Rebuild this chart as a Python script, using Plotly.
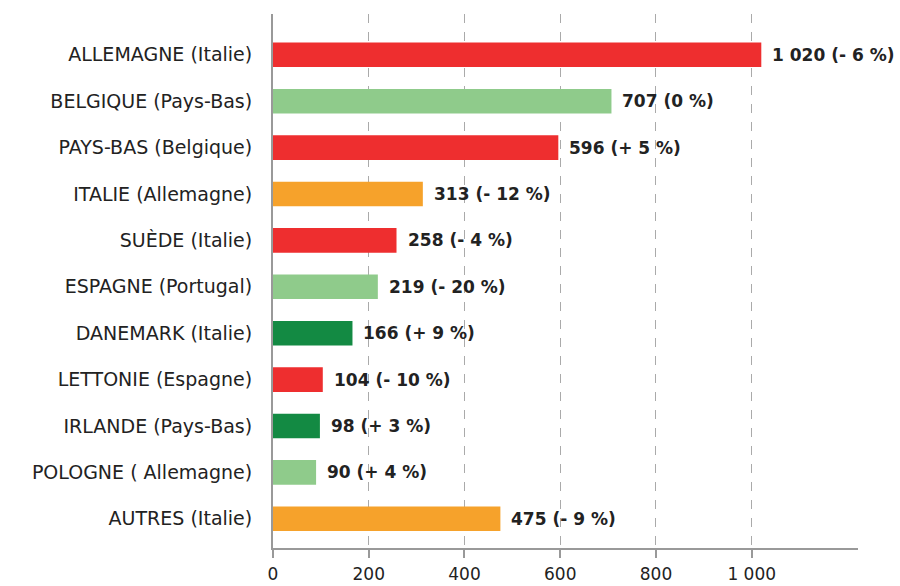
import plotly.graph_objects as go

categories = ["ALLEMAGNE (Italie)", "BELGIQUE (Pays-Bas)", "PAYS-BAS (Belgique)",
              "ITALIE (Allemagne)", "SUÈDE (Italie)", "ESPAGNE (Portugal)",
              "DANEMARK (Italie)", "LETTONIE (Espagne)", "IRLANDE (Pays-Bas)",
              "POLOGNE ( Allemagne)", "AUTRES (Italie)"]
values = [1020, 707, 596, 313, 258, 219, 166, 104, 98, 90, 475]
changes = ["- 6 %", "0 %", "+ 5 %", "- 12 %", "- 4 %", "- 20 %", "+ 9 %", "- 10 %", "+ 3 %", "+ 4 %", "- 9 %"]
value_labels = ["1 020", "707", "596", "313", "258", "219", "166", "104", "98", "90", "475"]
color_keys = ["red", "lightgreen", "red", "orange", "red", "lightgreen", "darkgreen", "red", "darkgreen", "lightgreen", "orange"]
tick_vals = [0, 200, 400, 600, 800, 1000]
tick_text = ["0", "200", "400", "600", "800", "1 000"]

palette = {"red": "#EE2E2F", "lightgreen": "#8FCB8B", "orange": "#F6A22B", "darkgreen": "#138A43"}
colors = [palette[k] for k in color_keys]

FONT = "DejaVu Sans, sans-serif"

fig = go.Figure(go.Bar(
    y=categories, x=values, orientation="h",
    marker=dict(color=colors, line=dict(width=0)),
    width=0.53, hoverinfo="skip",
))

for cat, v, vl, ch in zip(categories, values, value_labels, changes):
    fig.add_annotation(x=v, y=cat, text=f"<b>{vl} ({ch})</b>", showarrow=False,
                       xanchor="left", xshift=9, yanchor="middle",
                       font=dict(family=FONT, size=17, color="#222222"))

fig.update_layout(
    width=900, height=586,
    margin=dict(l=273, r=42, t=14, b=38),
    paper_bgcolor="white", plot_bgcolor="white",
    showlegend=False,
    font=dict(family=FONT, size=19, color="#222222"),
)
fig.update_xaxes(
    range=[0, 1222], tickvals=tick_vals, ticktext=tick_text,
    showgrid=True, gridcolor="#AAAAAA", griddash="dash", gridwidth=1,
    showline=True, linecolor="#999999", linewidth=2,
    ticks="outside", ticklen=8, tickcolor="#999999", tickwidth=2,
    ticklabelstandoff=2, tickfont=dict(family=FONT, size=17),
    zeroline=False, fixedrange=True, automargin=False,
)
fig.update_yaxes(
    categoryorder="array", categoryarray=categories,
    range=[10.63, -0.88], autorange=False,
    showline=True, linecolor="#999999", linewidth=2,
    showgrid=False, ticks="", ticklabelstandoff=15, zeroline=False,
    automargin=False, fixedrange=True,
)

fig.write_html("out.html", config={"displayModeBar": False, "staticPlot": True},
               post_script="document.body.style.margin='0';")
